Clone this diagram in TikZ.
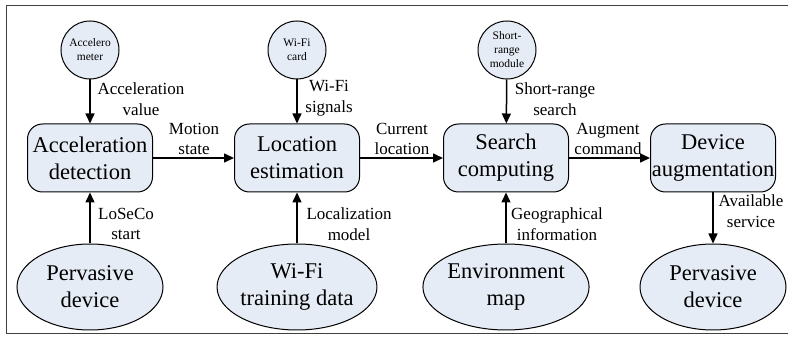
\documentclass[tikz,border=0pt]{standalone}
\usepackage{fontspec}
\setmainfont{Liberation Serif}
\usetikzlibrary{arrows.meta,shapes.geometric}
\definecolor{nodefill}{RGB}{230,236,246}
\tikzset{
  x=1pt, y=-1pt,
  proc/.style={draw, line width=1pt, fill=nodefill, rounded corners=15pt,
    minimum width=125pt, minimum height=68pt, align=center, inner sep=0pt,
    font=\fontsize{22.5}{27}\selectfont},
  src/.style={draw, line width=1pt, fill=nodefill, circle, minimum size=58pt,
    align=center, inner sep=0pt, font=\fontsize{11.5}{14}\selectfont},
  data/.style={draw, line width=1pt, fill=nodefill, ellipse, minimum width=146pt,
    minimum height=86pt, align=center, inner sep=0pt,
    font=\fontsize{22.5}{27}\selectfont},
  lbl/.style={align=center, inner sep=0pt, font=\fontsize{17}{20.5}\selectfont},
  flow/.style={line width=1.5pt, -{Triangle[length=10pt,width=9pt]}}
}
\begin{document}
\begin{tikzpicture}
\useasboundingbox (0,0) rectangle (788,339);
\clip (0,0) rectangle (788,339);
\draw[line width=1pt, draw=black!75] (6,6) rectangle (800,334);
% sources
\node[src] (acc) at (90,50) {Accelero\\meter};
\node[src] (wifi) at (297,50) {Wi-Fi\\card};
\node[src] (sr) at (507,50) {Short-\\range\\module};
% processes
\node[proc] (ad) at (90,158) {Acceleration\\detection};
\node[proc] (le) at (297,158) {Location\\estimation};
\node[proc] (sc) at (506,158) {Search\\computing};
\node[proc] (da) at (713,158) {Device\\augmentation};
% data
\node[data] (pd1) at (90,287) {Pervasive\\device};
\node[data] (wtd) at (297,287) {Wi-Fi\\training data};
\node[data] (em) at (506,287) {Environment\\map};
\node[data] (pd2) at (713,287) {Pervasive\\device};
% arrows
\draw[flow] (acc) -- (ad);
\draw[flow] (wifi) -- (le);
\draw[flow] (sr) -- (sc);
\draw[flow] (pd1) -- (ad);
\draw[flow] (wtd) -- (le);
\draw[flow] (em) -- (sc);
\draw[flow] (ad) -- (le);
\draw[flow] (le) -- (sc);
\draw[flow] (sc) -- (da);
\draw[flow] (da) -- (pd2);
% labels
\node[lbl] (l1) at (141,99) {Acceleration\\value};
\node[lbl] (l2) at (194,139) {Motion\\state};
\node[lbl] (l3) at (126,224) {LoSeCo\\start};
\node[lbl] (l4) at (329,98) {Wi-Fi\\signals};
\node[lbl] (l5) at (402,139) {Current\\location};
\node[lbl] (l6) at (349,224) {Localization\\model};
\node[lbl] (l7) at (555,99) {Short-range\\search};
\node[lbl] (l8) at (608,139) {Augment\\command};
\node[lbl] (l9) at (557,224) {Geographical\\information};
\node[lbl] (l10) at (751,211) {Available\\service};
\end{tikzpicture}
\end{document}
